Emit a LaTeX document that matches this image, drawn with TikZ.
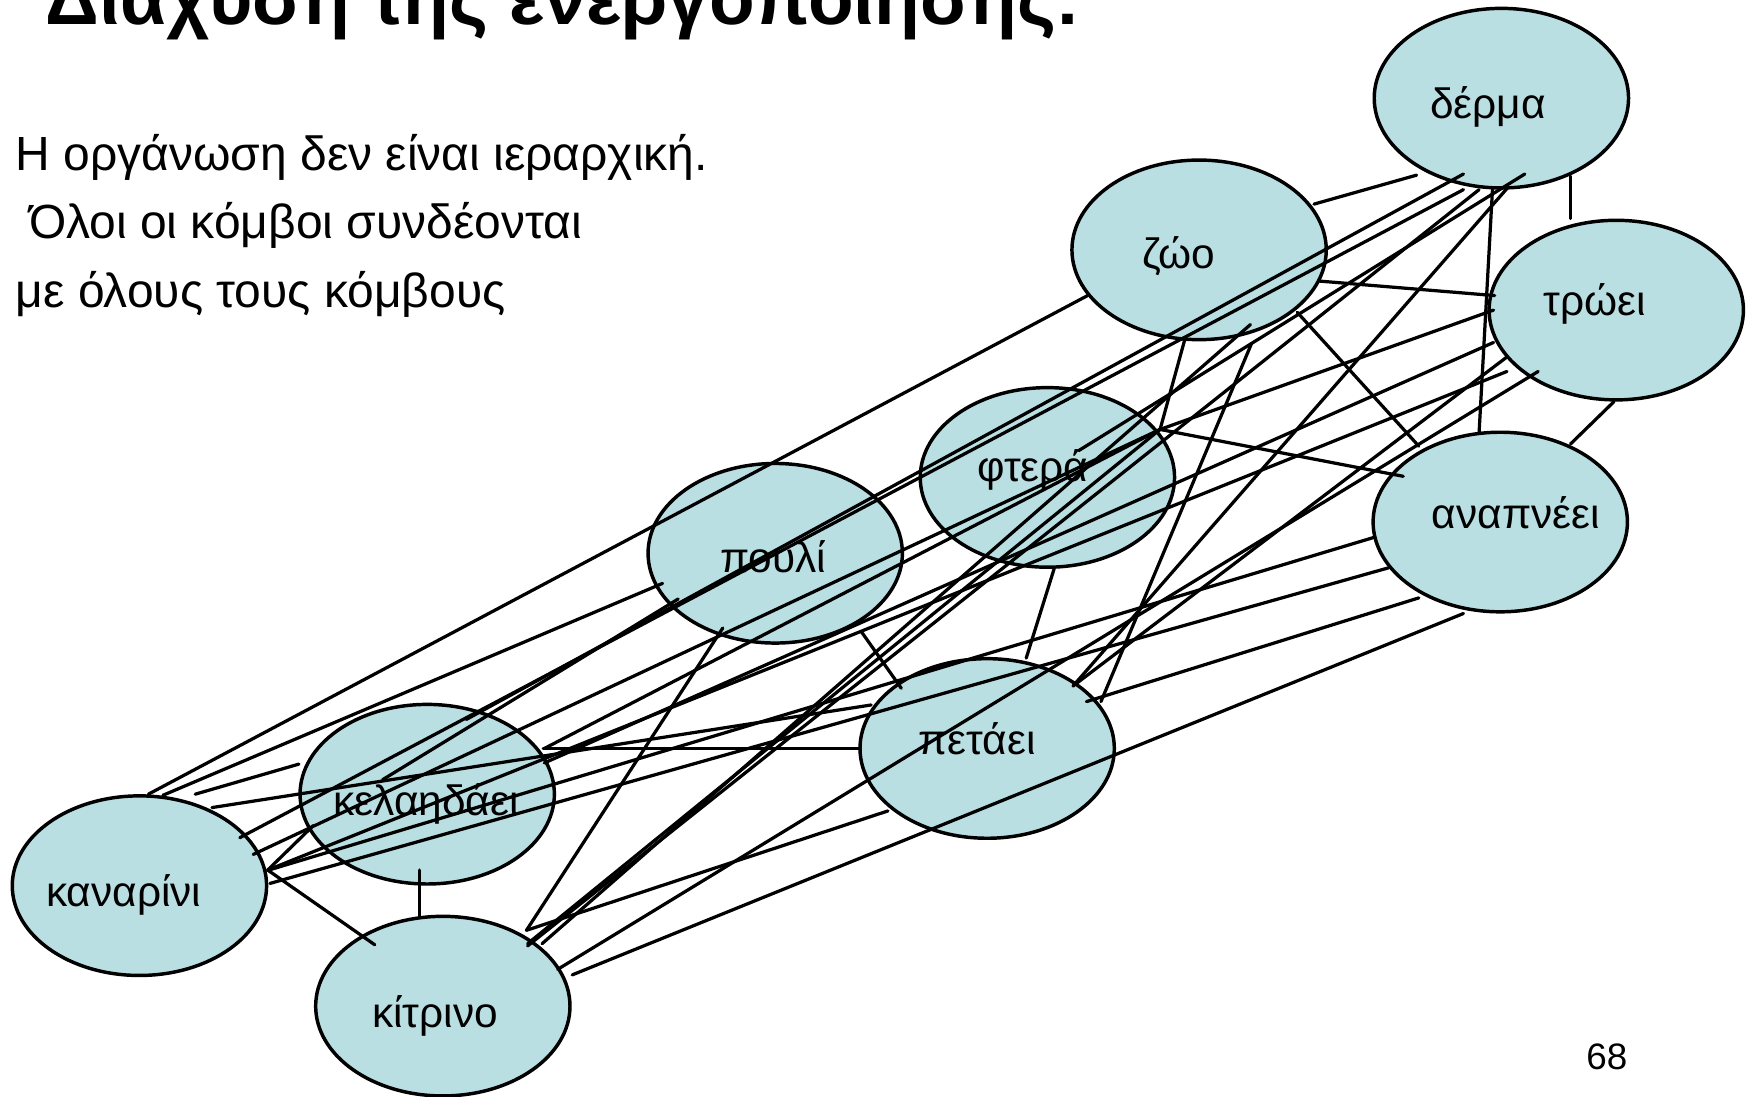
\documentclass[tikz,border=0pt]{standalone}
\usepackage{fontspec}
\setmainfont{Liberation Sans}
\usetikzlibrary{shapes.geometric}
\definecolor{nodefill}{RGB}{185,223,227}
\begin{document}
\begin{tikzpicture}[x=1pt,y=-1pt,
  concept/.style={ellipse, draw=black, line width=3.1pt, fill=nodefill,
    minimum width=228pt, minimum height=161pt, inner sep=0pt},
  word/.style={anchor=base, inner sep=0pt, font=\fontsize{38}{40}\selectfont},
  body/.style={anchor=base west, inner sep=0pt, font=\fontsize{43}{45}\selectfont},
  link/.style={line width=2.9pt, line cap=round}]
\clip (0,0) rectangle (1568,983);
\useasboundingbox (0,0) rectangle (1568,983);

% heading and explanatory text
\node[anchor=base west, inner sep=0pt, font=\bfseries\fontsize{67}{70}\selectfont]
  (title) at (41,22) {Διάχυση της ενεργοποίησης:};
\node[body] (t1) at (14,153) {Η οργάνωση δεν είναι ιεραρχική.};
\node[body] (t2) at (26,214) {Όλοι οι κόμβοι συνδέονται};
\node[body] (t3) at (14,276) {με όλους τους κόμβους};
\node[anchor=base west, inner sep=0pt, font=\fontsize{33}{35}\selectfont] (pg) at (1422,959) {68};

% concept nodes
\node[concept] (der) at (1346,88)  {};
\node[concept] (zoo) at (1075,224) {};
\node[concept] (tro) at (1449,278) {};
\node[concept] (fte) at (939,428)  {};
\node[concept] (ana) at (1345,468) {};
\node[concept] (pou) at (695,496)  {};
\node[concept] (pet) at (885,671)  {};
\node[concept] (kel) at (383,712)  {};
\node[concept] (kan) at (125,794)  {};
\node[concept] (kit) at (397,902)  {};

% labels
\node[word] (derL) at (1334,106) {δέρμα};
\node[word] (zooL) at (1057,241) {ζώο};
\node[word] (troL) at (1430,283) {τρώει};
\node[word] (anaL) at (1359,474) {αναπνέει};
\node[word] (fteL) at (926,432)  {φτερά};
\node[word] (pouL) at (693,513)  {πουλί};
\node[word] (petL) at (876,676)  {πετάει};
\node[word] (kelL) at (382,731)  {κελαηδάει};
\node[word] (kanL) at (111,813)  {καναρίνι};
\node[word] (kitL) at (390,921)  {κίτρινο};

% associations
\begin{scope}[link]
\draw ([shift={(-76,69)}]der.center) -- ([shift={(103,-41)}]zoo.center);
\draw ([shift={(62,70)}]der.center) -- ([shift={(-41,-82)}]tro.center);
\draw ([shift={(-8,82)}]der.center) -- ([shift={(-19,-80)}]ana.center);
\draw ([shift={(21,68)}]der.center) -- ([shift={(28,-24)}]fte.center);
\draw ([shift={(-34,68)}]der.center) -- ([shift={(35,-67)}]kel.center);
\draw ([shift={(-34,82)}]der.center) -- ([shift={(90,-43)}]kan.center);
\draw ([shift={(-20,82)}]der.center) -- ([shift={(76,-54)}]kit.center);
\draw ([shift={(5,81)}]der.center) -- ([shift={(77,-56)}]pet.center);

\draw ([shift={(108,28)}]zoo.center) -- ([shift={(-109,-13)}]tro.center);
\draw ([shift={(88,56)}]zoo.center) -- ([shift={(-73,-68)}]ana.center);
\draw ([shift={(-13,81)}]zoo.center) -- ([shift={(101,-43)}]fte.center);
\draw ([shift={(-100,41)}]zoo.center) -- ([shift={(8,-82)}]kan.center);
\draw ([shift={(47,84)}]zoo.center) -- ([shift={(102,-42)}]pet.center);
\draw ([shift={(46,67)}]zoo.center) -- ([shift={(89,-56)}]kit.center);

\draw ([shift={(-110,0)}]tro.center) -- ([shift={(101,-43)}]fte.center);
\draw ([shift={(-98,42)}]tro.center) -- ([shift={(77,-56)}]pet.center);
\draw ([shift={(-70,55)}]tro.center) -- ([shift={(103,-33)}]kit.center);
\draw ([shift={(-110,29)}]tro.center) -- ([shift={(105,-28)}]kel.center);
\draw ([shift={(-98,55)}]tro.center) -- ([shift={(115,-14)}]kan.center);
\draw ([shift={(-2,82)}]tro.center) -- ([shift={(63,-70)}]ana.center);

\draw ([shift={(101,-43)}]fte.center) -- ([shift={(-87,-41)}]ana.center);
\draw ([shift={(6,82)}]fte.center) -- ([shift={(35,-81)}]pet.center);
\draw ([shift={(101,-43)}]fte.center) -- ([shift={(105,-41)}]kel.center);
\draw ([shift={(101,-43)}]fte.center) -- ([shift={(76,-56)}]kit.center);
\draw ([shift={(101,-43)}]fte.center) -- ([shift={(102,-28)}]kan.center);

\draw ([shift={(-73,68)}]ana.center) -- ([shift={(89,-42)}]pet.center);
\draw ([shift={(-114,14)}]ana.center) -- ([shift={(116,-14)}]kan.center);
\draw ([shift={(-100,41)}]ana.center) -- ([shift={(117,-2)}]kan.center);
\draw ([shift={(-33,82)}]ana.center) -- ([shift={(116,-28)}]kit.center);

\draw ([shift={(77,70)}]pou.center) -- ([shift={(-77,-54)}]pet.center);
\draw ([shift={(-87,41)}]pou.center) -- ([shift={(-40,-13)}]kel.center);
\draw ([shift={(-101,27)}]pou.center) -- ([shift={(21,-81)}]kan.center);
\draw ([shift={(-47,67)}]pou.center) -- ([shift={(75,-68)}]kit.center);

\draw ([shift={(-115,0)}]pet.center) -- ([shift={(104,-41)}]kel.center);
\draw ([shift={(-104,-39)}]pet.center) -- ([shift={(65,-70)}]kan.center);
\draw ([shift={(-89,56)}]pet.center) -- ([shift={(75,-68)}]kit.center);

\draw ([shift={(-115,-27)}]kel.center) -- ([shift={(50,-82)}]kan.center);
\draw ([shift={(-102,28)}]kel.center) -- ([shift={(115,-14)}]kan.center);
\draw ([shift={(-7,68)}]kel.center) -- ([shift={(-21,-80)}]kit.center);
\draw ([shift={(115,-14)}]kan.center) -- ([shift={(-61,-55)}]kit.center);
\end{scope}
\end{tikzpicture}
\end{document}
